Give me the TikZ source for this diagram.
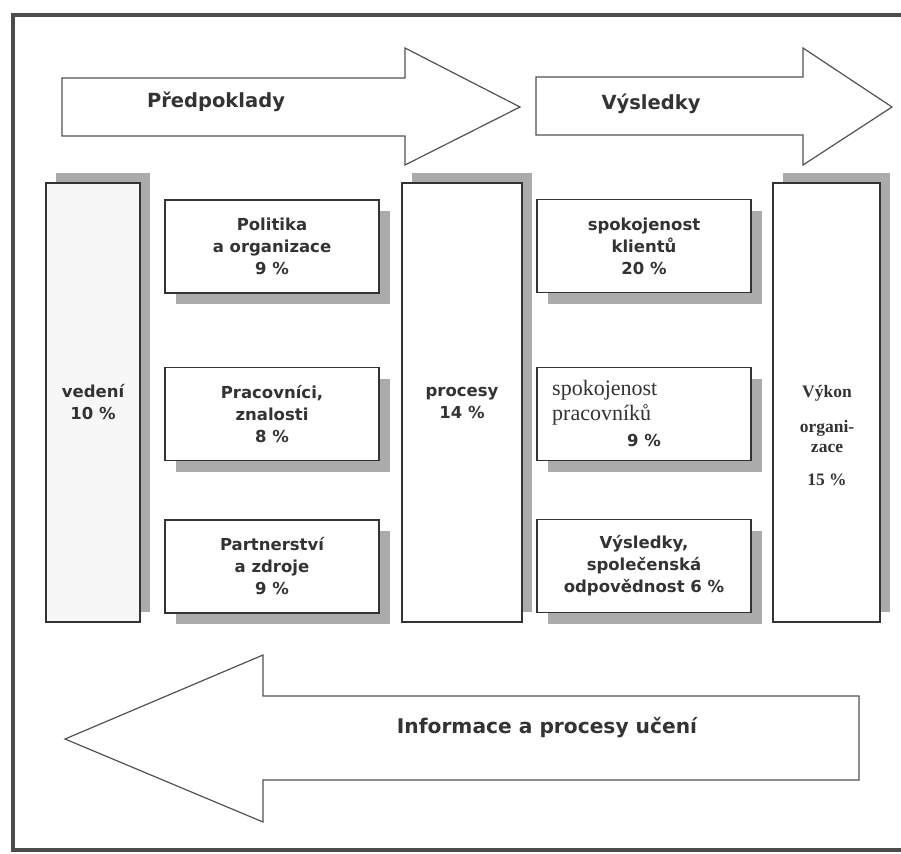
\documentclass[tikz,border=0pt]{standalone}
\usepackage{fontspec}
\setmainfont{DejaVu Sans}
\newfontfamily\timesfont{Liberation Serif}
\usetikzlibrary{shadows}
\definecolor{ink}{HTML}{333333}
\definecolor{shade}{HTML}{ABABAB}
\tikzset{
  box/.style={rectangle, draw=ink, line width=1.4pt, fill=white, align=center, inner sep=0pt, text=ink, font=\fontsize{16.5}{22}\selectfont\bfseries, minimum width=214pt, minimum height=93pt},
  shadedown/.style={general shadow={fill=shade, shadow xshift=11pt, shadow yshift=-11pt}},
  shadeup/.style={general shadow={fill=shade, shadow xshift=10pt, shadow yshift=10pt}},
  pillar/.style={box, shadeup, minimum height=439pt},
  card/.style={box, shadedown},
  bigarrow/.style={draw=ink!85, line width=1.2pt, fill=white, line join=miter},
  title/.style={text=ink, font=\fontsize{19.5}{24}\selectfont\bfseries},
  serif/.style={text=ink, inner sep=0pt, align=left, font=\timesfont\fontsize{22}{25}\selectfont}
}
\begin{document}
\begin{tikzpicture}[x=1pt, y=-1pt]
\useasboundingbox (0,0) rectangle (901,853);
\draw[line width=4pt, draw=gray!60!black] (13,15) rectangle (910,850);

% big arrows
\draw[bigarrow] (62,78) -- (405,78) -- (405,48) -- (520,107) -- (405,165) -- (405,136) -- (62,136) -- cycle;
\draw[bigarrow] (536,77) -- (803,77) -- (803,48) -- (892,107) -- (803,165) -- (803,135) -- (536,135) -- cycle;
\draw[bigarrow] (65,739) -- (263,655) -- (263,696) -- (859,696) -- (859,780) -- (263,780) -- (263,822) -- cycle;
\node[title] (predpoklady) at (216,102) {Předpoklady};
\node[title] (vysledky) at (651,104) {Výsledky};
\node[title, font=\fontsize{20.2}{24}\selectfont\bfseries] (informace) at (547,728) {Informace a procesy učení};

% columns
\node[pillar, minimum width=94pt, fill=gray!6] (vedeni) at (93,402.5) {vedení\\10 \%};
\node[pillar, minimum width=120pt] (procesy) at (462,402.5) {procesy\\14 \%};
\node[pillar, minimum width=107pt] (vykon) at (826.5,402.5) {};
\node[text=ink, align=center, font=\timesfont\bfseries\fontsize{17.5}{20}\selectfont] (vykontext) at (827,436) {Výkon\\[15pt]organi-\\zace\\[13pt]15 \%};

% left cards
\node[card] (politika) at (272,246.5) {Politika\\a organizace\\9 \%};
\node[card] (pracovnici) at (272,414) {Pracovníci,\\znalosti\\8 \%};
\node[card] (partnerstvi) at (272,566.5) {Partnerství\\a zdroje\\9 \%};

% right cards
\node[card] (klienti) at (644,246) {spokojenost\\klientů\\20 \%};
\node[card] (spokojenost) at (644,414) {};
\node[serif, anchor=north west] (spokojtext) at (552,380) {spokojenost\\pracovníků};
\node[text=ink, font=\fontsize{16.5}{22}\selectfont\bfseries] (spokojpct) at (644,440) {9 \%};
\node[card] (odpovednost) at (644,566) {Výsledky,\\společenská\\odpovědnost 6 \%};
\end{tikzpicture}
\end{document}
